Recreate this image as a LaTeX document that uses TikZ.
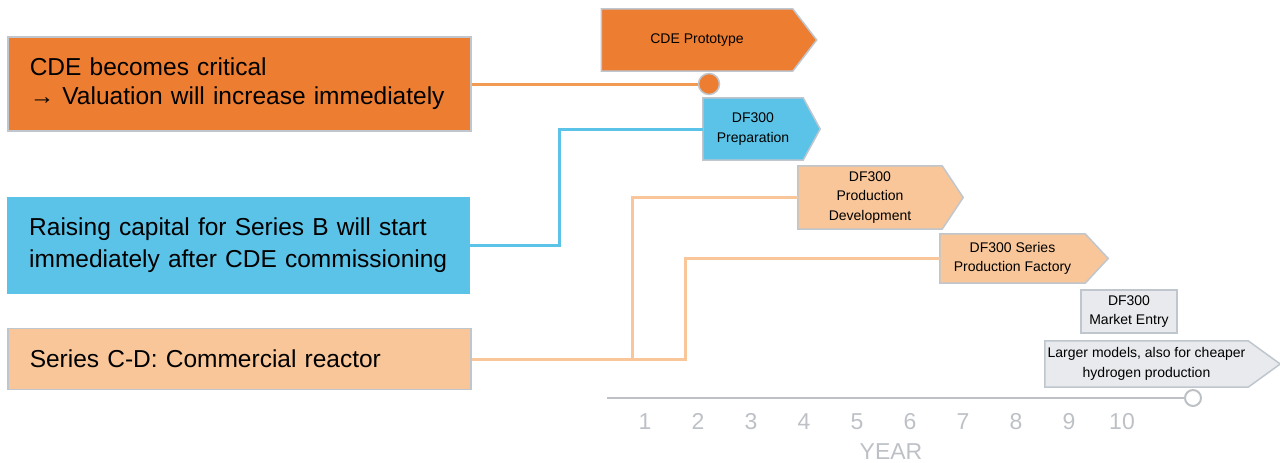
\documentclass[tikz,border=0pt]{standalone}
\usepackage{fontspec}
\setmainfont{Liberation Sans}
\usetikzlibrary{calc}
\definecolor{cdeorange}{HTML}{ED7D31}
\definecolor{linkorange}{HTML}{F29A52}
\definecolor{seriesblue}{HTML}{5BC3E7}
\definecolor{seriespeach}{HTML}{F8C699}
\definecolor{marketgrey}{HTML}{E8EAED}
\definecolor{edgegrey}{HTML}{BFC6CE}
\definecolor{axisgrey}{HTML}{BDC1C6}
\pgfdeclarelayer{back}
\pgfsetlayers{back,main}
\tikzset{
  bigbox/.style={anchor=west, align=left, inner xsep=22pt, inner ysep=0pt, text width=419pt},
  tagtext/.style={align=center, inner sep=0pt, font=\fontsize{14}{19.5}\selectfont},
  tagedge/.style={draw=edgegrey, line width=1.5pt},
  link/.style={line width=3pt},
  yearnum/.style={text=axisgrey, anchor=base, font=\fontsize{23}{23}\selectfont},
}

\begin{document}
\begin{tikzpicture}[x=1pt,y=-1pt]
    \useasboundingbox (0,0) rectangle (1280,463);

    % left: funding rounds
    \node[bigbox, draw=edgegrey, line width=1.5pt, fill=cdeorange, minimum height=94pt, font=\fontsize{24.5}{29}\selectfont] (critical) at (7,84) {CDE becomes critical\\→ Valuation will increase immediately};
    \node[bigbox, fill=seriesblue, minimum height=97pt, font=\fontsize{24.5}{32}\selectfont] (capital) at (7,245.5) {Raising capital for Series B will start\\immediately after CDE commissioning};
    \node[bigbox, draw=edgegrey, line width=1.5pt, fill=seriespeach, minimum height=61pt, font=\fontsize{24.5}{29}\selectfont] (reactor) at (7,359) {Series C-D: Commercial reactor};

    % milestone tags
    \foreach \n/\x/\y/\w/\h/\d/\c/\t in {
        proto/697/40/191/62/24/cdeorange/{CDE Prototype},
        prep/753/129/100/62/17/seriesblue/{DF300\\Preparation},
        devel/870/197.5/144/63/21/seriespeach/{DF300\\Production\\Development},
        factory/1012.5/258.5/145/49/23/seriespeach/{DF300 Series\\Production Factory},
        larger/1146.5/364/203/46/32/marketgrey/{Larger models, also for cheaper\\hydrogen production}}{
        \node[tagtext, minimum width=\w pt, minimum height=\h pt] (\n) at (\x,\y) {\t};
        \begin{pgfonlayer}{back}
            \filldraw[tagedge, fill=\c] (\n.north west) -- (\n.north east) -- ($(\n.east)+(\d,0)$) -- (\n.south east) -- (\n.south west) -- cycle;
        \end{pgfonlayer}
    }
    \node[tagtext, tagedge, fill=marketgrey, minimum width=96pt, minimum height=43pt] (market) at (1129,311.5) {DF300\\Market Entry};

    % connectors
    \node[circle, tagedge, fill=cdeorange, minimum size=21pt, inner sep=0pt] (protodot) at (709,84) {};
    \draw[link, linkorange] (critical.east) -- (protodot.west);

    \coordinate (bluebend) at (559,129);
    \draw[link, seriesblue] (capital.east) -| (bluebend) -- (prep.west);

    \coordinate (splitA) at (632,359);
    \coordinate (splitB) at (685,359);
    \draw[link, seriespeach] (reactor.east) -- (splitA) |- (devel.west);
    \draw[link, seriespeach] (splitA) -- (splitB) |- (factory.west);

    % year axis
    \coordinate (axisstart) at (607,398);
    \node[circle, draw=axisgrey, fill=white, line width=2pt, minimum size=16pt, inner sep=0pt] (axisend) at (1193,398) {};
    \draw[axisgrey, line width=2.5pt] (axisstart) -- (axisend.west);
    \foreach \k in {1,...,10}
        \node[yearnum] (year\k) at ({645+53*(\k-1)},429) {\k};
    \node[yearnum] (yearlabel) at (891,459) {YEAR};
\end{tikzpicture}
\end{document}
